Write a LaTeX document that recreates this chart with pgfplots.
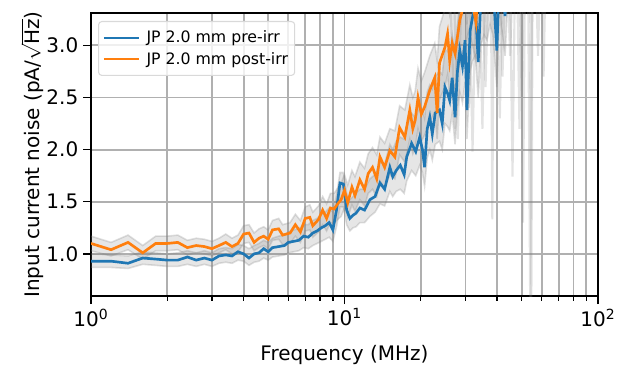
\documentclass[border=0pt]{standalone}
\usepackage{fontspec}
\setmainfont{DejaVu Sans}
\usepackage{pgfplots}
\pgfplotsset{compat=1.18}
\usepgfplotslibrary{fillbetween}
\usepackage{pgfplotstable}
\definecolor{mblue}{HTML}{1F77B4}
\definecolor{morange}{HTML}{FF7F0E}
\definecolor{gridgray}{HTML}{B0B0B0}

\pgfplotstableread{
f y lo hi
1.0 0.93 0.87 1.00
1.2 0.93 0.87 0.99
1.4 0.91 0.86 0.98
1.6 0.96 0.90 1.02
1.8 0.95 0.89 1.01
2.0 0.94 0.88 1.00
2.2 0.94 0.88 1.01
2.4 0.97 0.90 1.03
2.6 0.94 0.88 1.01
2.8 0.96 0.90 1.03
3.0 0.94 0.88 1.01
3.2 0.98 0.91 1.05
3.4 0.99 0.92 1.06
3.6 0.98 0.91 1.05
3.8 1.02 0.94 1.09
4.0 1.00 0.93 1.08
4.2 0.96 0.89 1.05
4.4 1.00 0.92 1.08
4.6 1.01 0.93 1.10
4.8 1.05 0.96 1.13
5.0 1.02 0.94 1.11
5.2 1.06 0.97 1.15
5.5 1.07 0.98 1.17
5.8 1.08 0.99 1.18
6.0 1.11 1.01 1.21
6.3 1.12 1.02 1.23
6.6 1.13 1.03 1.24
6.9 1.17 1.06 1.28
7.2 1.16 1.05 1.28
7.5 1.20 1.08 1.32
7.8 1.22 1.10 1.34
8.1 1.25 1.12 1.38
8.4 1.27 1.14 1.40
8.7 1.30 1.16 1.44
9.0 1.23 1.12 1.40
9.3 1.42 1.26 1.56
9.6 1.68 1.45 1.78
9.9 1.67 1.45 1.78
10.2 1.42 1.28 1.58
10.5 1.34 1.22 1.52
10.8 1.37 1.25 1.55
11.1 1.39 1.26 1.58
11.5 1.44 1.30 1.62
12.0 1.42 1.30 1.62
12.6 1.52 1.36 1.72
13.2 1.55 1.40 1.76
13.8 1.68 1.48 1.88
14.4 1.62 1.46 1.86
15.1 1.83 1.60 2.05
15.5 1.74 1.55 2.00
16.0 1.80 1.60 2.08
16.6 1.85 1.62 2.12
17.2 1.76 1.58 2.10
17.6 1.93 1.70 2.22
18.4 2.06 1.80 2.35
19.1 1.98 1.75 2.30
19.8 2.12 1.85 2.42
20.3 2.00 1.78 2.38
20.7 1.83 1.65 2.30
21.2 2.20 1.92 2.55
21.7 2.31 2.00 2.62
22.2 2.15 1.90 2.58
22.8 2.35 2.05 2.70
23.7 2.38 2.08 2.75
24.3 2.25 2.00 2.72
24.9 2.60 2.25 2.95
25.5 2.54 2.22 2.95
26.0 2.47 2.18 2.92
26.6 2.69 2.35 3.10
27.3 2.31 2.05 2.95
27.9 2.75 2.40 3.20
28.5 2.95 2.55 3.35
29.2 2.80 2.45 3.30
29.9 3.05 2.65 3.50
30.4 2.38 2.10 3.20
31.3 3.14 2.75 3.60
32.0 3.27 2.85 3.70
32.8 3.40 2.90 3.80
33.7 2.84 2.50 3.50
34.5 3.45 3.00 3.90
35.5 3.60 3.10 4.00
36.5 3.50 3.05 4.00
37.5 3.70 3.20 4.10
38.5 3.60 3.10 4.10
39.9 2.95 2.60 3.70
41.0 3.80 3.30 4.20
43.0 3.28 2.90 4.00
44.0 3.90 3.40 4.30
}\pre

\pgfplotstableread{
f y lo hi
1.0 1.10 1.03 1.17
1.2 1.04 0.98 1.11
1.4 1.11 1.04 1.18
1.6 1.01 0.95 1.08
1.8 1.10 1.03 1.17
2.0 1.10 1.03 1.17
2.2 1.11 1.04 1.18
2.4 1.06 0.99 1.13
2.6 1.08 1.01 1.15
2.8 1.07 1.00 1.14
3.0 1.05 0.98 1.12
3.2 1.08 1.01 1.15
3.4 1.11 1.04 1.19
3.6 1.07 1.00 1.15
3.8 1.10 1.02 1.18
4.0 1.19 1.10 1.27
4.2 1.20 1.11 1.28
4.4 1.11 1.03 1.20
4.6 1.15 1.06 1.24
4.8 1.17 1.08 1.26
5.0 1.14 1.05 1.23
5.2 1.23 1.13 1.32
5.5 1.24 1.14 1.34
5.7 1.18 1.09 1.28
6.1 1.20 1.10 1.30
6.4 1.28 1.17 1.38
6.7 1.21 1.11 1.32
7.0 1.34 1.22 1.45
7.3 1.35 1.23 1.47
7.5 1.27 1.16 1.40
7.9 1.33 1.21 1.46
8.2 1.42 1.28 1.55
8.5 1.34 1.22 1.48
8.8 1.44 1.30 1.58
9.1 1.43 1.29 1.58
9.4 1.48 1.33 1.63
9.7 1.52 1.36 1.68
10.0 1.61 1.44 1.76
10.3 1.49 1.35 1.66
10.7 1.64 1.47 1.80
11.0 1.56 1.41 1.74
11.5 1.71 1.52 1.88
12.0 1.62 1.46 1.82
12.4 1.77 1.58 1.96
12.9 1.83 1.62 2.02
13.4 1.72 1.55 1.95
13.8 1.93 1.70 2.12
14.4 1.83 1.63 2.06
15.1 1.99 1.76 2.20
15.8 1.93 1.72 2.18
16.5 2.21 1.95 2.42
17.3 2.12 1.88 2.38
18.1 2.38 2.10 2.62
18.6 2.20 1.96 2.50
19.0 2.28 2.02 2.56
19.5 2.50 2.20 2.78
20.1 2.34 2.08 2.66
20.7 2.41 2.14 2.74
21.7 2.57 2.26 2.90
22.7 2.69 2.36 3.02
23.2 2.35 2.10 2.85
23.7 2.83 2.48 3.18
24.9 2.98 2.60 3.35
25.5 3.11 2.72 3.48
26.0 2.85 2.50 3.30
26.6 3.02 2.65 3.42
27.3 2.92 2.58 3.35
28.5 3.24 2.85 3.65
29.9 3.45 3.00 3.90
31.0 3.60 3.15 4.00
32.0 3.40 3.00 3.90
33.0 3.22 2.85 3.70
34.0 3.70 3.20 4.10
}\post

\pgfplotstableread{
f y
27.0 3.6
28.0 2.1
29.0 3.6
31.0 3.6
32.0 1.98
33.0 3.6
35.0 3.6
36.0 2.6
37.0 3.6
37.8 3.6
38.3 1.33
38.8 3.6
41.0 3.6
42.0 2.7
43.0 3.6
45.0 3.6
46.0 1.74
47.0 3.6
49.0 3.6
50.0 2.5
51.0 3.6
53.0 3.6
54.0 0.55
55.0 3.6
57.0 3.6
58.0 2.9
59.0 3.6
}\grayA

\pgfplotstableread{
f y
26.0 3.6
27.3 2.2
28.5 3.6
30.0 3.6
31.0 2.4
32.0 3.6
34.0 3.6
35.0 2.2
36.0 3.6
40.0 3.6
41.0 2.3
42.0 3.6
44.0 3.6
45.0 2.9
46.0 3.6
48.0 3.6
49.0 2.2
49.8 3.6
50.6 1.30
51.5 3.6
54.0 3.6
54.6 0.55
55.2 3.6
60.0 3.6
61.0 2.7
62.0 3.6
}\grayB

\begin{document}
\begin{tikzpicture}
\begin{axis}[
  xmode=log,
  width=380.25pt, height=212.25pt, scale only axis,
  xmin=1, xmax=100, ymin=0.596, ymax=3.31,
  xtick={1,10,100},
  xticklabels={10\textsuperscript{0},10\textsuperscript{1},10\textsuperscript{2}},
  minor xtick={2,3,4,5,6,7,8,9,20,30,40,50,60,70,80,90},
  ytick={1,1.5,2,2.5,3},
  y tick label style={/pgf/number format/.cd, fixed, fixed zerofill, precision=1, /tikz/.cd},
  /pgf/number format/assume math mode=true,
  xmajorgrids, xminorgrids, ymajorgrids,
  major grid style={gridgray, line width=1.4pt},
  minor grid style={gridgray, line width=1.4pt},
  axis line style={line width=1.2pt},
  tick align=outside, xtick pos=lower, ytick pos=left,
  major tick length=6pt, minor tick length=3.5pt,
  every tick/.style={black, line width=1pt},
  tick label style={font=\fontsize{15}{18}\selectfont},
  label style={font=\fontsize{15}{18}\selectfont},
  xlabel={Frequency (MHz)},
  ylabel={Input current noise (pA/$\sqrt{\mbox{Hz}}$)},
  ylabel shift=-4.5pt,
  xlabel shift=7pt,
  legend style={at={(0,1)}, anchor=north west, xshift=5.25pt, yshift=-6pt,
    font=\fontsize{11.8}{14}\selectfont, draw=gray!30, rounded corners=2.5pt,
    fill=white, fill opacity=0.8, text opacity=1, row sep=1.5pt,
    inner xsep=3pt, inner ysep=5pt, line width=0.8pt},
  legend cell align=left,
  legend image code/.code={\draw[#1] (0pt,0pt) -- (26pt,0pt); \path (29pt,0pt);},
]
% gray bands
\addplot[name path=bh, gray, opacity=0.25, line width=1.2pt, forget plot] table[x=f,y=hi]{\pre};
\addplot[name path=bl, gray, opacity=0.25, line width=1.2pt, forget plot] table[x=f,y=lo]{\pre};
\addplot[fill=gray, fill opacity=0.2, draw=none, forget plot] fill between[of=bh and bl];
\addplot[name path=oh, gray, opacity=0.25, line width=1.2pt, forget plot] table[x=f,y=hi]{\post};
\addplot[name path=ol, gray, opacity=0.25, line width=1.2pt, forget plot] table[x=f,y=lo]{\post};
\addplot[fill=gray, fill opacity=0.2, draw=none, forget plot] fill between[of=oh and ol];
\addplot[gray, opacity=0.22, line width=1.6pt, forget plot] table[x=f,y=y]{\grayA};
\addplot[gray, opacity=0.22, line width=1.6pt, forget plot] table[x=f,y=y]{\grayB};
% main lines
\addplot[mblue, line width=2pt] table[x=f,y=y]{\pre};
\addlegendentry{JP 2.0 mm pre-irr}
\addplot[morange, line width=2pt] table[x=f,y=y]{\post};
\addlegendentry{JP 2.0 mm post-irr}
\end{axis}
\pgfresetboundingbox
\path[use as bounding box] ([xshift=-68.25pt, yshift=-51pt]current axis.south west) rectangle ([xshift=19.5pt, yshift=9.75pt]current axis.north east);
\end{tikzpicture}
\end{document}
